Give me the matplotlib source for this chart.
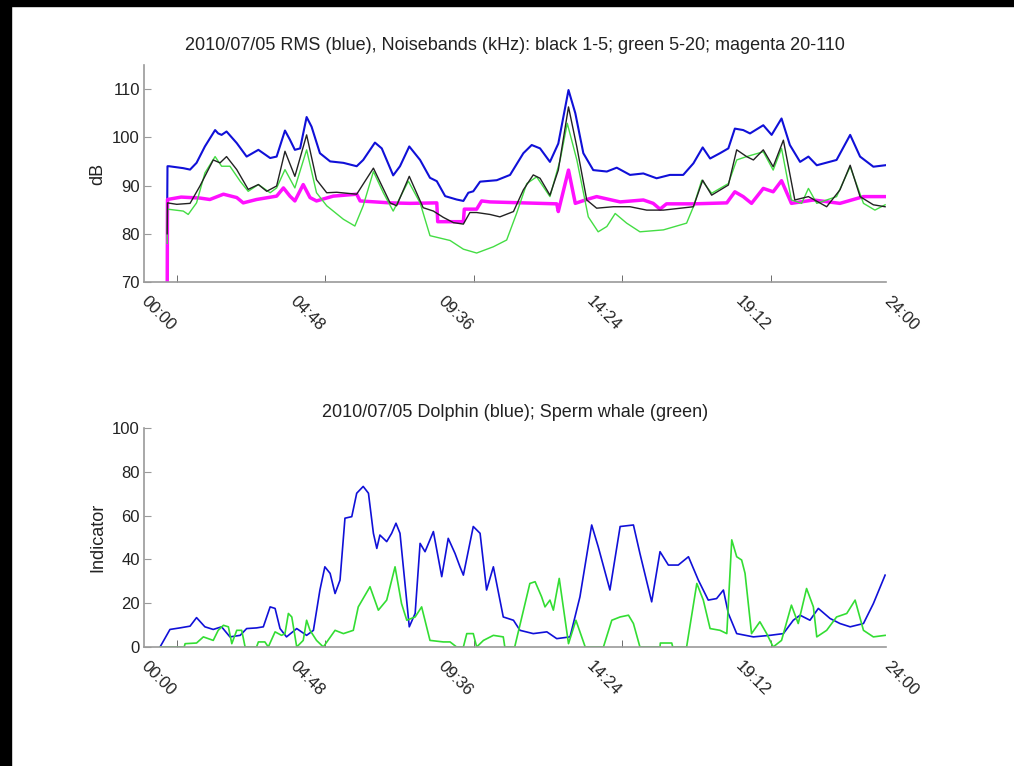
import numpy as np
import matplotlib
matplotlib.use("Agg")
import matplotlib.pyplot as plt
from matplotlib.patches import Rectangle

plt.rcParams['font.family'] = ['Liberation Sans', 'DejaVu Sans']

# -----------------------------
# Data (hours of day)
# -----------------------------
rms_t = [0.75, 0.76, 0.81, 1.27, 1.49, 1.70, 1.97, 2.30, 2.40, 2.51, 2.67, 3.00, 3.32, 3.70,
         4.08, 4.29, 4.56, 4.72, 4.88, 5.05, 5.26, 5.42, 5.69, 6.02, 6.45, 6.88, 7.09, 7.47,
         7.69, 8.06, 8.28, 8.58, 8.93, 9.25, 9.47, 9.74, 10.11, 10.33, 10.49, 10.65, 10.87,
         11.41, 11.84, 12.27, 12.54, 12.81, 13.13, 13.40, 13.73, 13.95, 14.21, 14.53, 14.97,
         15.29, 15.72, 16.15, 16.58, 17.01, 17.44, 17.77, 18.07, 18.31, 18.63, 18.90, 19.11,
         19.38, 19.60, 20.03, 20.30, 20.62, 20.89, 21.22, 21.49, 21.76, 22.40, 22.84, 23.16,
         23.59, 23.97]
rms_db = [85.0, 94.0, 94.0, 93.6, 93.3, 94.7, 98.1, 101.5, 100.8, 100.5, 101.2, 98.8, 96.0, 97.4,
          95.7, 96.0, 101.4, 99.5, 97.4, 97.7, 104.2, 102.2, 96.7, 95.0, 94.7, 94.0, 95.3, 98.9,
          97.7, 92.1, 94.0, 98.1, 95.3, 91.6, 90.9, 87.8, 87.1, 86.8, 88.5, 88.8, 90.8,
          91.1, 92.2, 96.7, 98.4, 97.7, 94.9, 98.7, 109.8, 105.0, 96.7, 93.2, 92.9,
          93.7, 92.2, 92.5, 91.5, 92.2, 92.2, 94.6, 97.9, 95.6, 96.7, 97.7, 101.8,
          101.5, 100.8, 102.5, 100.5, 103.9, 98.4, 94.9, 96.0, 94.2, 95.3, 100.5, 96.0,
          93.9, 94.2]

nb1_t = [0.75, 0.76, 1.06, 1.49, 1.81, 2.24, 2.46, 2.67, 3.00, 3.37, 3.70, 3.97, 4.29, 4.56,
         4.88, 5.26, 5.58, 5.91, 6.23, 6.88, 7.42, 7.96, 8.17, 8.58, 9.03, 9.36, 9.68, 10.01,
         10.33, 10.54, 10.76, 11.19, 11.51, 11.95, 12.27, 12.59, 12.81, 13.13, 13.40, 13.73,
         14.00, 14.32, 14.64, 15.18, 15.72, 16.26, 16.80, 17.77, 18.07, 18.36, 18.90, 19.17,
         19.49, 19.71, 20.03, 20.35, 20.68, 21.05, 21.49, 22.08, 22.51, 22.84, 23.16, 23.59,
         23.97]
nb1_db = [80.0, 86.4, 86.1, 86.3, 89.9, 95.3, 94.7, 96.0, 93.3, 89.2, 90.2, 88.8, 89.9, 97.1,
          91.9, 100.5, 91.2, 88.5, 88.6, 88.2, 93.6, 86.4, 85.8, 91.9, 85.4, 84.7, 83.4, 82.3,
          82.0, 84.4, 84.4, 84.0, 83.5, 84.6, 89.1, 92.2, 91.5, 88.0, 93.2, 106.3,
          98.0, 87.0, 85.3, 85.6, 85.6, 84.9, 84.9, 85.6, 91.1, 88.0, 90.1, 97.4,
          96.0, 95.3, 97.4, 93.9, 99.4, 87.0, 87.7, 85.6, 89.1, 94.2, 87.7, 86.0,
          85.6]

nb2_t = [0.75, 0.76, 1.27, 1.43, 1.70, 1.97, 2.30, 2.51, 2.78, 3.11, 3.37, 3.70, 4.08, 4.29,
         4.56, 4.88, 5.26, 5.58, 5.91, 6.45, 6.82, 7.09, 7.42, 7.74, 8.06, 8.55, 8.93, 9.25,
         9.90, 10.33, 10.76, 11.30, 11.73, 12.05, 12.38, 12.70, 13.13, 13.46, 13.69, 14.00,
         14.37, 14.69, 14.97, 15.24, 15.61, 16.04, 16.80, 17.55, 17.77, 18.04, 18.36, 18.90,
         19.17, 19.49, 20.03, 20.35, 20.62, 20.94, 21.27, 21.49, 21.76, 22.40, 22.84, 23.27,
         23.64, 23.97]
nb2_db = [78.0, 85.1, 84.7, 84.0, 86.4, 92.6, 96.0, 94.0, 94.0, 90.9, 88.8, 90.2, 88.5, 89.5,
          93.3, 89.5, 97.4, 88.5, 85.8, 83.0, 81.6, 85.8, 92.9, 88.5, 84.7, 90.9, 86.4, 79.6,
          78.6, 76.8, 76.0, 77.3, 78.7, 84.2, 90.4, 91.8, 87.7, 95.3, 102.9, 95.3,
          83.5, 80.4, 81.5, 84.2, 82.2, 80.4, 80.8, 82.2, 85.6, 91.1, 88.4, 90.4,
          95.3, 96.0, 97.0, 93.2, 97.7, 87.0, 86.3, 89.4, 86.3, 87.7, 93.9, 86.3,
          84.9, 86.0]

nb3_t = [0.75, 0.76, 1.20, 1.81, 2.13, 2.57, 3.00, 3.21, 3.64, 4.29, 4.51, 4.72, 4.88, 5.15,
         5.37, 5.58, 6.12, 6.88, 6.99, 7.96, 8.60, 9.47, 9.50, 10.33, 10.36, 10.76, 10.92,
         11.19, 13.35, 13.40, 13.73, 13.95, 14.32, 14.64, 15.40, 16.15, 16.47, 16.69, 16.90,
         17.77, 18.85, 19.11, 19.38, 19.65, 20.03, 20.35, 20.62, 20.94, 21.65, 22.51, 23.27,
         23.97]
nb3_db = [66.0, 87.1, 87.6, 87.4, 87.1, 88.2, 87.5, 86.4, 87.1, 87.8, 89.5, 87.8, 86.8, 90.2,
          87.5, 86.8, 87.8, 88.2, 86.8, 86.4, 86.3, 86.4, 82.5, 82.5, 85.1, 85.1, 86.8,
          86.6, 86.2, 84.6, 93.2, 86.3, 87.1, 87.7, 86.6, 87.0, 86.3, 85.1, 86.2,
          86.2, 86.4, 88.7, 87.7, 86.3, 89.4, 88.7, 91.0, 86.3, 87.0, 86.3, 87.7,
          87.7]

dol_t = [0.52, 0.84, 1.16, 1.49, 1.70, 1.97, 2.24, 2.51, 2.78, 3.11, 3.32, 3.64, 3.86, 4.08,
         4.24, 4.40, 4.61, 4.94, 5.26, 5.48, 5.69, 5.85, 6.02, 6.18, 6.34, 6.50, 6.72, 6.88,
         7.09, 7.26, 7.42, 7.53, 7.63, 7.85, 8.01, 8.15, 8.28, 8.58, 8.77, 8.93, 9.09, 9.36,
         9.63, 9.84, 10.06, 10.22, 10.33, 10.65, 10.87, 11.08, 11.30, 11.62, 11.95, 12.16,
         12.59, 13.03, 13.35, 13.78, 14.10, 14.48, 14.69, 15.07, 15.40, 15.83, 16.04, 16.42,
         16.69, 16.96, 17.28, 17.61, 17.93, 18.25, 18.52, 18.74, 18.90, 19.17, 19.71, 20.24,
         20.68, 21.00, 21.22, 21.54, 21.81, 22.19, 22.51, 22.84, 23.27, 23.59, 23.97]
dol_v = [0.0, 8.0, 8.7, 9.5, 13.4, 9.2, 8.0, 9.2, 4.6, 5.3, 8.4, 8.7, 9.2, 18.3,
         17.6, 8.4, 4.6, 8.4, 5.3, 7.6, 26.0, 36.6, 33.6, 24.4, 30.5, 58.8, 59.5, 70.2,
         73.3, 70.2, 51.9, 45.0, 51.1, 48.1, 51.9, 56.5, 51.9, 9.2, 15.3, 47.3, 43.5, 52.7,
         32.1, 49.6, 42.7, 36.6, 32.8, 55.0, 51.9, 26.0, 36.6, 13.7, 12.2, 7.6,
         6.1, 6.9, 3.8, 4.6, 22.9, 55.7, 45.8, 26.0, 55.0, 55.7, 42.7, 20.6,
         43.5, 37.4, 37.4, 41.2, 30.5, 21.4, 22.1, 26.0, 15.3, 6.1, 4.6, 5.3,
         6.1, 12.2, 14.5, 12.2, 17.6, 13.0, 10.7, 9.2, 10.7, 19.8, 32.8]

sw_t = [0.52, 1.30, 1.33, 1.70, 1.92, 2.24, 2.40, 2.57, 2.73, 2.84, 3.00, 3.16, 3.27, 3.64,
        3.70, 3.91, 4.02, 4.24, 4.45, 4.56, 4.67, 4.78, 4.94, 5.15, 5.26, 5.37, 5.58, 5.80,
        6.18, 6.45, 6.77, 6.93, 7.31, 7.58, 7.85, 8.12, 8.33, 8.50, 8.77, 8.98, 9.25, 9.68,
        9.90, 10.11, 10.33, 10.44, 10.65, 10.76, 10.98, 11.30, 11.62, 11.67, 11.99, 12.48,
        12.65, 12.86, 12.97, 13.13, 13.24, 13.43, 13.73, 13.97, 14.27, 14.86, 15.13, 15.40,
        15.67, 15.83, 16.04, 16.69, 16.70, 17.07, 17.10, 17.55, 17.88, 18.09, 18.31, 18.63,
        18.85, 19.01, 19.17, 19.33, 19.44, 19.65, 19.92, 20.14, 20.35, 20.62, 20.94, 21.16,
        21.43, 21.65, 21.76, 22.08, 22.40, 22.73, 23.00, 23.27, 23.59, 23.97]
sw_v = [0.0, 0.0, 1.5, 1.8, 4.6, 3.0, 7.6, 9.9, 9.2, 1.5, 7.6, 7.6, 0.0, 0.0,
        2.3, 2.3, 0.0, 6.9, 5.3, 6.1, 15.3, 13.7, 0.0, 3.0, 12.2, 7.6, 3.0, 0.0,
        7.6, 6.1, 7.6, 18.3, 27.5, 16.8, 21.4, 36.6, 19.8, 12.2, 13.7, 18.3, 3.0, 2.3,
        2.3, 0.0, 0.0, 6.1, 6.1, 0.0, 3.0, 5.3, 4.6, 0.0, 0.0, 29.0,
        29.8, 22.9, 18.3, 21.4, 16.8, 31.3, 1.5, 12.2, 0.0, 0.0, 12.2, 13.7,
        14.5, 10.7, 0.0, 0.0, 1.8, 1.8, 0.0, 0.0, 29.0, 21.4, 8.4, 7.6,
        6.1, 48.9, 41.2, 39.7, 33.6, 6.1, 11.5, 6.1, 0.0, 3.0, 19.1, 10.7,
        26.7, 18.3, 4.6, 7.6, 13.7, 15.3, 21.4, 7.6, 4.6, 5.3]

tick_hours = [0, 4.8, 9.6, 14.4, 19.2, 24]
tick_labels = ['00:00', '04:48', '09:36', '14:24', '19:12', '24:00']
mark_hours = [1.07, 5.87, 10.67, 15.47, 20.27]

# -----------------------------
# Figure
# -----------------------------
GRAY = '#9a9a9a'
TXT = '#222222'
fig = plt.figure(figsize=(10.14, 7.66), dpi=100)
fig.patch.set_facecolor('white')

ax1 = fig.add_axes([0.142, 0.6319, 0.7318, 0.2833])
ax2 = fig.add_axes([0.142, 0.1554, 0.7318, 0.2859])


def style(ax):
    ax.set_xlim(0, 24)
    for s in ['top', 'right']:
        ax.spines[s].set_visible(False)
    for s in ['left', 'bottom']:
        ax.spines[s].set_color(GRAY)
        ax.spines[s].set_linewidth(1.2)
    ax.set_xticks(tick_hours)
    ax.set_xticklabels(tick_labels, rotation=-45, rotation_mode='anchor',
                       ha='left', va='center')
    ax.set_xticks(mark_hours, minor=True)
    ax.tick_params(axis='x', which='major', length=0, pad=12, labelsize=12,
                   labelcolor=TXT)
    ax.tick_params(axis='x', which='minor', direction='in', length=5, color='#555555')
    ax.tick_params(axis='y', direction='in', length=5, color=GRAY, labelsize=12,
                   labelcolor=TXT, pad=3)


# --- top panel ---
ax1.plot(rms_t, rms_db, color='#1010d8', lw=1.5)
ax1.plot(nb3_t, nb3_db, color='#ff10ff', lw=2.5)
ax1.plot(nb2_t, nb2_db, color='#44dd44', lw=1.0)
ax1.plot(nb1_t, nb1_db, color='#222222', lw=1.0)
style(ax1)
ax1.set_ylim(70, 115)
ax1.set_yticks([70, 80, 90, 100, 110])
ax1.set_ylabel('dB', fontsize=13, color=TXT, labelpad=4)
ax1.set_title('2010/07/05 RMS (blue), Noisebands (kHz): black 1-5; green 5-20; magenta 20-110',
              fontsize=13, color=TXT, pad=11)

# --- bottom panel ---
ax2.plot(dol_t, dol_v, color='#1010d8', lw=1.2)
ax2.plot(sw_t, sw_v, color='#33dd33', lw=1.2)
style(ax2)
ax2.set_ylim(0, 100)
ax2.set_yticks([0, 20, 40, 60, 80, 100])
ax2.set_ylabel('Indicator', fontsize=13, color=TXT, labelpad=4)
ax2.set_title('2010/07/05 Dolphin (blue); Sperm whale (green)',
              fontsize=13, color=TXT, pad=8)

# black frame strips at the left and top edge
fig.patches.append(Rectangle((0, 0), 11 / 1014, 1, transform=fig.transFigure,
                             color='black', zorder=10))
fig.patches.append(Rectangle((0, 1 - 6 / 766), 1, 6 / 766, transform=fig.transFigure,
                             color='black', zorder=10))

fig.savefig('out.png', dpi=100)
